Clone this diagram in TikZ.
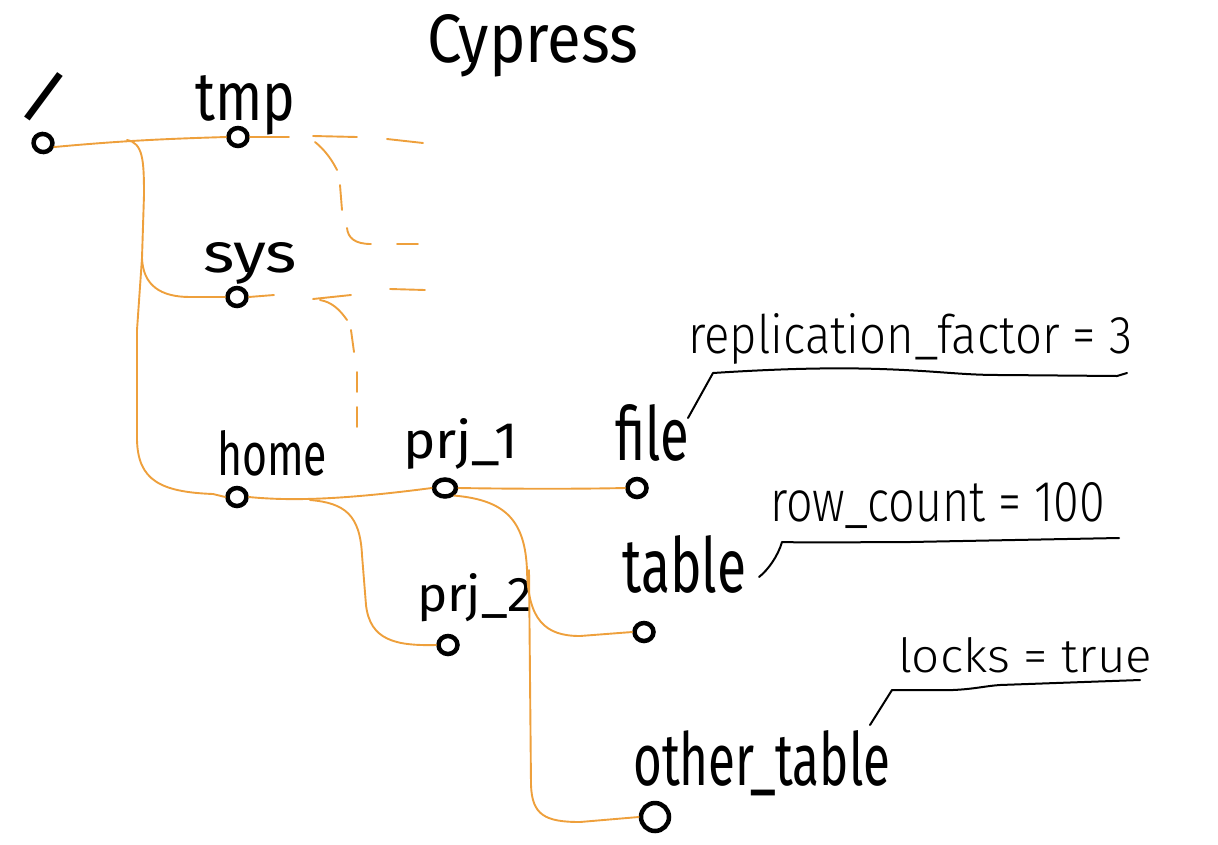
\documentclass[tikz,border=0pt]{standalone}
\usepackage{fontspec}
\usepackage{graphicx}
\setmainfont{Fira Sans}
\newfontfamily\annfont{Fira Sans Light}
\newfontfamily\medfont{Fira Sans Medium}
\usetikzlibrary{shapes.geometric}
\definecolor{wire}{RGB}{238,160,60}
\tikzset{
  vtx/.style={draw=black, line width=4.5pt, ellipse, minimum width=19pt, minimum height=18pt, inner sep=0pt},
  wirel/.style={draw=wire, line width=1.9pt, line cap=round, line join=round},
  ink/.style={draw=black, line width=2pt, line cap=round, line join=round},
  lbl/.style={inner sep=0pt, anchor=base west},
}
\newcommand\fitbox[3]{\resizebox{#1pt}{#2pt}{#3}}
\begin{document}
\begin{tikzpicture}[x=1pt,y=-1pt]
\useasboundingbox (0,0) rectangle (1218,844);
% title
\node[lbl] (title) at (427,62) {\fitbox{211}{48}{Cypress}};
% vertices
\node[vtx, rotate=-20] (root) at (43,143) {};
\node[vtx] (tmp) at (238,137) {};
\node[vtx] (sys) at (237,297) {};
\node[vtx] (home) at (237,497) {};
\node[vtx, minimum width=22pt, minimum height=17pt] (prj1) at (445,488) {};
\node[vtx] (prj2) at (448,645) {};
\node[vtx] (file) at (637,488) {};
\node[vtx] (table) at (644,632) {};
\node[vtx, minimum width=28pt, minimum height=28pt] (other) at (655,817) {};
% labels
\node[inner sep=0pt, anchor=center, rotate=-22, font=\medfont\fontsize{60}{60}\selectfont] (rootlbl) at (44,97) {/};
\node[lbl] (tmplbl) at (195,120) {\fitbox{100}{45}{tmp}};
\node[lbl] (syslbl) at (203,272) {\fitbox{94}{30}{sys}};
\node[lbl] (homelbl) at (217,475) {\fitbox{110}{45}{home}};
\node[lbl] (prj1lbl) at (403,458) {\fitbox{115}{40}{prj\_1}};
\node[lbl] (prj2lbl) at (417,611) {\fitbox{116}{38}{prj\_2}};
\node[lbl] (filelbl) at (615,460) {\fitbox{74}{56}{file}};
\node[lbl] (tablelbl) at (622,592) {\fitbox{124}{57}{table}};
\node[lbl] (otherlbl) at (633,785) {\fitbox{257}{55}{other\_table}};
% annotations
\node[lbl] (replbl) at (688,353) {\annfont\fitbox{444}{40}{replication\_factor = 3}};
\node[lbl] (rowlbl) at (770,521) {\annfont\fitbox{335}{39}{row\_count = 100}};
\node[lbl] (locklbl) at (898,672) {\annfont\fitbox{254}{35}{locks = true}};
% annotation leaders
\coordinate (repA) at (688,418);
\coordinate (rowA) at (759,577);
\coordinate (lockA) at (870,725);
\draw[ink] (repA) -- (713,373) .. controls (760,370) and (820,367) .. (880,369) .. controls (940,371) and (960,375) .. (1000,375) -- (1117,376) -- (1127,373);
\draw[ink] (rowA) .. controls (768,570) and (778,556) .. (782,542) .. controls (820,543) and (860,542) .. (910,542) -- (1119,538);
\draw[ink] (lockA) -- (892,690) -- (953,690) .. controls (975,689) and (985,686) .. (1000,685) -- (1140,680);
% junctions
\coordinate (rj) at (127,140);
\coordinate (sj) at (142,258);
\coordinate (hj) at (310,500);
\coordinate (pj) at (529,570);
% tree wires
\draw[wirel] (root.east) .. controls (120,141) and (160,139) .. (tmp.west);
\draw[wirel] (rj) .. controls (143,143) and (144,160) .. (144,195) -- (sj) .. controls (143,285) and (160,297) .. (190,297) -- (sys.west);
\draw[wirel] (sj) -- (137,330) -- (137,440) .. controls (138,480) and (160,492) .. (213,494) -- (home.west);
\draw[wirel] (home.east) .. controls (290,501) and (340,500) .. (prj1.west);
\draw[wirel] (hj) .. controls (345,503) and (360,515) .. (362,555) -- (366,605) .. controls (370,640) and (395,646) .. (prj2.west);
\draw[wirel] (prj1.east) .. controls (520,489) and (580,489) .. (file.west);
\draw[wirel] (prj1.south east) .. controls (505,500) and (525,520) .. (527,570) .. controls (528,620) and (545,636) .. (580,636) -- (table.west);
\draw[wirel] (pj) -- (531,785) .. controls (532,815) and (545,822) .. (580,822) -- (other.west);
% stubs and dashed continuations
\draw[wirel] (tmp.east) -- (289,137);
\draw[wirel] (sys.east) -- (274,295);
\draw[wirel] (313,136) -- (357,137);
\draw[wirel] (387,139) -- (423,143);
\draw[wirel] (315,142) .. controls (325,150) and (332,160) .. (337,170);
\draw[wirel] (340,185) -- (342,210);
\draw[wirel] (347,228) .. controls (348,238) and (355,244) .. (371,244);
\draw[wirel] (397,244) -- (418,244);
\draw[wirel] (313,299) -- (351,295);
\draw[wirel] (390,289) -- (425,290);
\draw[wirel] (320,300) .. controls (332,302) and (340,310) .. (347,320);
\draw[wirel] (351,330) -- (354,352);
\draw[wirel] (357,372) -- (357,392);
\draw[wirel] (357,407) -- (357,427);
\end{tikzpicture}
\end{document}
